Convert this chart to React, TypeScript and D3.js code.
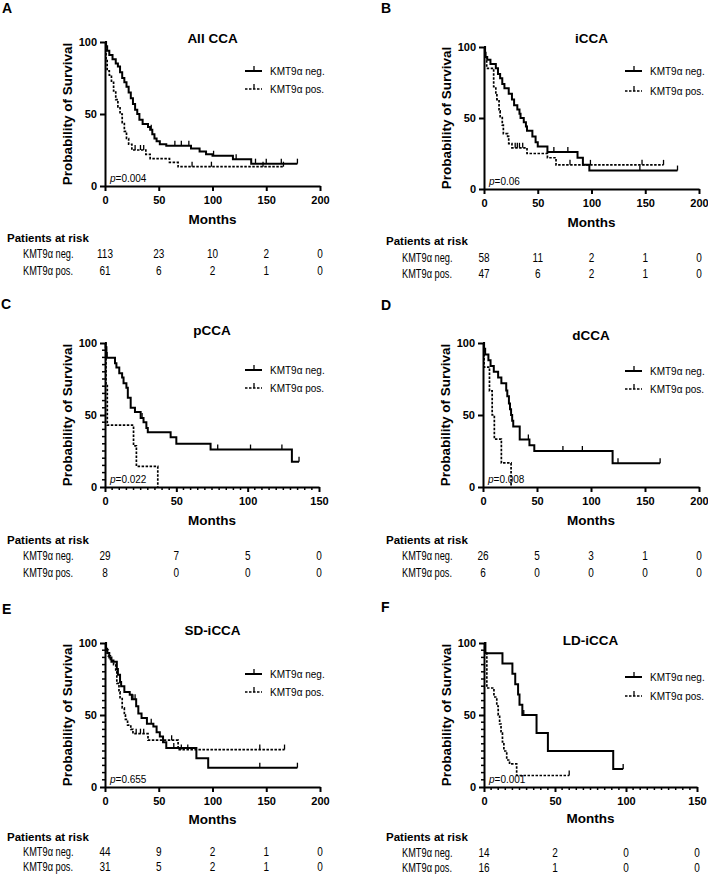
import React, { useRef, useEffect } from "react";
import * as d3 from "d3";

type Step = [number, number];

// Kaplan-Meier step points: [month, survival %]; value holds until the next point,
// the last point marks where follow-up ends.

// --- All CCA ---
const allNegSteps: Step[] = [[0, 100], [1, 97], [2, 94], [4, 91], [7, 88], [10, 85], [12, 83], [14, 79], [16, 75], [18, 72], [20, 69], [22, 65], [24, 61], [26, 57], [28, 53], [30, 50], [32, 46], [35, 43], [40, 41], [42, 39], [44, 36], [46, 33], [48, 31], [51, 29], [57, 28], [80, 26], [88, 24], [94, 22], [100, 21], [119, 18.5], [136, 15.5], [179, 15.5]];
const allNegCensored = [43, 65, 71, 78, 101, 122, 140, 150, 164, 179];
const allPosSteps: Step[] = [[0, 100], [1, 88], [2, 80], [4, 77], [6, 72], [8, 66], [10, 60], [12, 55], [14, 50], [16, 44], [18, 38], [20, 33], [22, 29], [25, 25], [38, 22], [42, 19], [60, 16.4], [68, 13.4], [166, 13.4]];
const allPosCensored = [28, 33, 36, 81, 99, 147, 166];
const allNegRisk = [113, 23, 10, 2, 0];
const allPosRisk = [61, 6, 2, 1, 0];

// --- iCCA ---
const icNegSteps: Step[] = [[0, 100], [1, 96], [1.5, 93], [3, 91], [6, 88], [11, 85], [13, 81], [15, 78], [17, 74], [19, 71], [23, 67], [26, 63], [28, 59], [31, 56], [33, 53], [34, 50], [37, 47], [39, 44], [40, 41], [45, 37], [48, 33], [50, 30], [59, 26], [87, 22], [92, 17], [98, 13], [180, 13]];
const icNegCensored = [40, 65, 78, 145, 180];
const icPosSteps: Step[] = [[0, 100], [1, 93], [2.5, 85], [9, 72], [11, 67], [12, 63], [14, 55], [15, 51], [17, 45], [18, 39], [22, 37], [23, 32], [26, 29], [40, 25], [59, 22], [67, 17], [167, 17]];
const icPosCensored = [29, 31, 33, 36, 80, 99, 147, 167];
const icNegRisk = [58, 11, 2, 1, 0];
const icPosRisk = [47, 6, 2, 1, 0];

// --- pCCA ---
const pNegSteps: Step[] = [[0, 100], [0.5, 97], [1, 93], [1.3, 89.7], [7, 86], [8, 83], [10, 79], [12, 76], [13, 72], [15, 69], [16, 62], [18, 55], [21, 52], [25, 48], [27, 45], [29, 41], [30, 38], [46, 34.5], [50, 30], [74, 26], [131, 17.5], [136, 17.5]];
const pNegCensored = [26, 79, 102, 124, 136];
const pPosSteps: Step[] = [[0, 100], [0.7, 71.4], [1.6, 42.9], [20, 28.6], [22, 14.3], [37, 0]];
const pPosCensored: number[] = [];
const pNegRisk = [29, 7, 5, 0];
const pPosRisk = [8, 0, 0, 0];

// --- dCCA ---
const dNegSteps: Step[] = [[0, 100], [1, 96], [2, 92], [5, 88], [7, 84], [10, 80], [14, 76], [17, 72], [21.5, 67], [22.5, 63], [24, 58], [25, 54], [26, 50], [27, 46], [28, 42], [34, 33], [43, 29], [47.5, 25], [120, 16.5], [164, 16.5]];
const dNegCensored = [42, 74, 92, 125, 164];
const dPosSteps: Step[] = [[0, 100], [1, 83.3], [6, 66.7], [8.5, 50], [10.5, 33.3], [17, 16.7], [26, 0]];
const dPosCensored: number[] = [];
const dNegRisk = [26, 5, 3, 1, 0];
const dPosRisk = [6, 0, 0, 0, 0];

// --- SD-iCCA ---
const sdNegSteps: Step[] = [[0, 100], [1, 96], [2, 93], [4, 90], [6, 87], [11, 82], [12, 78], [14, 73], [15, 70], [18, 66], [23, 64], [25, 61], [29, 56], [31, 51], [34, 48], [39, 44], [45, 42], [48, 38], [51, 35], [54, 31], [57, 27], [85, 20], [96, 13.4], [179, 13.4]];
const sdNegCensored = [26, 28, 43, 64, 144, 179];
const sdPosSteps: Step[] = [[0, 100], [1, 95], [3, 91], [5, 88], [8, 85], [10, 80], [11, 72], [13, 66], [14, 62], [16, 55], [18, 50], [19, 47], [21, 43], [24, 40], [26, 37], [40, 32.5], [68, 26], [167, 26]];
const sdPosCensored = [29, 33, 36, 62, 71, 77, 144, 167];
const sdNegRisk = [44, 9, 2, 1, 0];
const sdPosRisk = [31, 5, 2, 1, 0];

// --- LD-iCCA ---
const ldNegSteps: Step[] = [[0, 100], [1, 92.9], [13, 85.7], [20, 78.6], [22, 71.4], [24, 64.3], [25, 57.1], [27, 50], [37, 37.5], [45, 25], [91, 12.5], [98, 12.5]];
const ldNegCensored = [28, 98];
const ldPosSteps: Step[] = [[0, 100], [0.5, 93.75], [2, 68.75], [7, 62.5], [9, 56.25], [10, 50], [11, 43.75], [12, 37.5], [13, 31.25], [14, 25], [16, 18.75], [18, 16], [23, 8], [60, 8]];
const ldPosCensored = [60];
const ldNegRisk = [14, 2, 0, 0];
const ldPosRisk = [16, 1, 0, 0];

const seriesNames = ["KMT9\u03b1 neg.", "KMT9\u03b1 pos."];
const yTicks = [0, 50, 100];

const FONT = "'Liberation Sans', Arial, Helvetica, sans-serif";

// panel frame: x0/x1 = x axis ends, yTop/yBot = 100% and 0% rows; table = offsets below yBot
const panels = [
  { letter: "A", title: "All CCA", pValue: "0.004", xMax: 200, neg: allNegSteps, negCens: allNegCensored, pos: allPosSteps, posCens: allPosCensored, negRisk: allNegRisk, posRisk: allPosRisk, minorX: false, minorY: false,
    x0: 105, x1: 320, yTop: 42, yBot: 186, titleY: 43, letterXY: [2, 13], legendX: 245, legendY: [71, 89], tableX: 7, table: [38, 56, 72, 89] },
  { letter: "B", title: "iCCA", pValue: "0.06", xMax: 200, neg: icNegSteps, negCens: icNegCensored, pos: icPosSteps, posCens: icPosCensored, negRisk: icNegRisk, posRisk: icPosRisk, minorX: false, minorY: false,
    x0: 484, x1: 699, yTop: 47, yBot: 189, titleY: 43, letterXY: [381, 13], legendX: 625, legendY: [71, 91], tableX: 386, table: [38, 56, 73, 89] },
  { letter: "C", title: "pCCA", pValue: "0.022", xMax: 150, neg: pNegSteps, negCens: pNegCensored, pos: pPosSteps, posCens: pPosCensored, negRisk: pNegRisk, posRisk: pPosRisk, minorX: true, minorY: true,
    x0: 105, x1: 319, yTop: 343, yBot: 487, titleY: 335, letterXY: [1, 309], legendX: 245, legendY: [370, 388], tableX: 7, table: [38, 57, 73, 90] },
  { letter: "D", title: "dCCA", pValue: "0.008", xMax: 200, neg: dNegSteps, negCens: dNegCensored, pos: dPosSteps, posCens: dPosCensored, negRisk: dNegRisk, posRisk: dPosRisk, minorX: false, minorY: false,
    x0: 483, x1: 699, yTop: 343, yBot: 487, titleY: 340, letterXY: [381, 310], legendX: 625, legendY: [371, 389], tableX: 386, table: [38, 57, 73, 90] },
  { letter: "E", title: "SD-iCCA", pValue: "0.655", xMax: 200, neg: sdNegSteps, negCens: sdNegCensored, pos: sdPosSteps, posCens: sdPosCensored, negRisk: sdNegRisk, posRisk: sdPosRisk, minorX: false, minorY: true,
    x0: 105, x1: 320, yTop: 643, yBot: 787, titleY: 635, letterXY: [2, 614], legendX: 245, legendY: [674, 692], tableX: 7, table: [37, 54, 69, 84] },
  { letter: "F", title: "LD-iCCA", pValue: "0.001", xMax: 150, neg: ldNegSteps, negCens: ldNegCensored, pos: ldPosSteps, posCens: ldPosCensored, negRisk: ldNegRisk, posRisk: ldPosRisk, minorX: true, minorY: true,
    x0: 484, x1: 697, yTop: 643, yBot: 787, titleY: 645, letterXY: [381, 612], legendX: 625, legendY: [677, 696], tableX: 386, table: [36, 54, 70, 85] },
];

function survivalAt(steps: Step[], t: number) {
  let s = steps[0][1];
  for (const [m, v] of steps) {
    if (m <= t) s = v;
    else break;
  }
  return s;
}

const KaplanMeierGrid = () => {
  const svgRef = useRef<SVGSVGElement>(null);

  useEffect(() => {
    document.body.style.margin = "0";
    const svg = d3.select(svgRef.current);
    svg.selectAll("*").remove();

    panels.forEach((p) => {
      const g = svg.append("g").style("font-family", FONT);

      const x = d3.scaleLinear().domain([0, p.xMax]).range([p.x0, p.x1]);
      const y = d3.scaleLinear().domain([0, 100]).range([p.yBot, p.yTop]);
      const xTicks = d3.range(0, p.xMax + 1, 50);
      const midX = (p.x0 + p.x1) / 2;

      // panel letter and title
      g.append("text")
        .attr("x", p.letterXY[0])
        .attr("y", p.letterXY[1])
        .style("font-size", "14px")
        .style("font-weight", "700")
        .text(p.letter);

      g.append("text")
        .attr("x", midX)
        .attr("y", p.titleY)
        .attr("text-anchor", "middle")
        .style("font-size", "13.5px")
        .style("font-weight", "700")
        .text(p.title);

      // axes
      const yAxis = g.append("g")
        .attr("transform", `translate(${p.x0},0)`)
        .call(d3.axisLeft(y).tickValues(yTicks).tickSize(5).tickSizeOuter(0).tickPadding(3));
      const xAxis = g.append("g")
        .attr("transform", `translate(0,${p.yBot})`)
        .call(d3.axisBottom(x).tickValues(xTicks).tickSize(5).tickSizeOuter(0).tickPadding(5));

      [yAxis, xAxis].forEach((ax) => {
        ax.select(".domain").attr("stroke", "#000").attr("stroke-width", 2);
        ax.selectAll(".tick line").attr("stroke", "#000").attr("stroke-width", 2);
        ax.selectAll(".tick text")
          .attr("fill", "#000")
          .style("font-family", FONT)
          .style("font-size", "11px")
          .style("font-weight", "700");
      });

      if (p.minorX) {
        g.append("g")
          .selectAll("line")
          .data(d3.range(5, p.xMax, 5).filter((v) => v % 50 !== 0))
          .join("line")
          .attr("x1", (d) => x(d))
          .attr("x2", (d) => x(d))
          .attr("y1", p.yBot)
          .attr("y2", p.yBot + 3)
          .attr("stroke", "#000")
          .attr("stroke-width", 1.5);
      }
      if (p.minorY) {
        g.append("g")
          .selectAll("line")
          .data(d3.range(5, 100, 5).filter((v) => v % 50 !== 0))
          .join("line")
          .attr("x1", p.x0 - 3)
          .attr("x2", p.x0)
          .attr("y1", (d) => y(d))
          .attr("y2", (d) => y(d))
          .attr("stroke", "#000")
          .attr("stroke-width", 1.5);
      }

      // axis titles
      g.append("text")
        .attr("transform", `translate(${p.x0 - 33},${(p.yTop + p.yBot) / 2}) rotate(-90)`)
        .attr("text-anchor", "middle")
        .style("font-size", "13.5px")
        .style("font-weight", "700")
        .text("Probability of Survival");

      g.append("text")
        .attr("x", midX)
        .attr("y", p.yBot + p.table[0])
        .attr("text-anchor", "middle")
        .style("font-size", "13.5px")
        .style("font-weight", "700")
        .text("Months");

      // survival curves
      const line = d3.line<Step>()
        .x((d) => x(d[0]))
        .y((d) => y(d[1]))
        .curve(d3.curveStepAfter);

      const series = [
        { steps: p.pos, cens: p.posCens, dash: "2.5,1.5", width: 1.7 },
        { steps: p.neg, cens: p.negCens, dash: null, width: 2 },
      ];
      series.forEach((s) => {
        g.append("path")
          .datum(s.steps)
          .attr("fill", "none")
          .attr("stroke", "#000")
          .attr("stroke-width", s.width)
          .attr("stroke-dasharray", s.dash)
          .attr("d", line);

        g.append("g")
          .selectAll("line")
          .data(s.cens)
          .join("line")
          .attr("x1", (d) => x(d))
          .attr("x2", (d) => x(d))
          .attr("y1", (d) => y(survivalAt(s.steps, d)))
          .attr("y2", (d) => y(survivalAt(s.steps, d)) - 5)
          .attr("stroke", "#000")
          .attr("stroke-width", 1.3);
      });

      // p value
      const pText = g.append("text")
        .attr("x", p.x0 + 5)
        .attr("y", p.yBot - 4)
        .style("font-size", "10px");
      pText.append("tspan").style("font-style", "italic").text("p");
      pText.append("tspan").text(`=${p.pValue}`);

      // legend
      seriesNames.forEach((name, i) => {
        const ly = p.legendY[i];
        g.append("line")
          .attr("x1", p.legendX)
          .attr("x2", p.legendX + 17)
          .attr("y1", ly)
          .attr("y2", ly)
          .attr("stroke", "#000")
          .attr("stroke-width", i === 0 ? 2 : 1.7)
          .attr("stroke-dasharray", i === 0 ? null : "2.5,1.5");
        g.append("line")
          .attr("x1", p.legendX + 9)
          .attr("x2", p.legendX + 9)
          .attr("y1", ly)
          .attr("y2", ly - 5)
          .attr("stroke", "#000")
          .attr("stroke-width", 1.3);
        g.append("text")
          .attr("x", p.legendX + 25)
          .attr("y", ly + 3.5)
          .style("font-size", "10px")
          .text(name);
      });

      // patients at risk table
      g.append("text")
        .attr("x", p.tableX)
        .attr("y", p.yBot + p.table[1])
        .style("font-size", "11.5px")
        .style("font-weight", "700")
        .text("Patients at risk");

      [p.negRisk, p.posRisk].forEach((row, i) => {
        const ry = p.yBot + p.table[2 + i];
        g.append("text")
          .attr("transform", `translate(${p.tableX + 16},${ry}) scale(0.74,1)`)
          .style("font-size", "12.5px")
          .text(seriesNames[i]);
        g.append("g")
          .selectAll("text")
          .data(row)
          .join("text")
          .attr("transform", (d, j) => `translate(${x(xTicks[j])},${ry}) scale(0.8,1)`)
          .attr("text-anchor", "middle")
          .style("font-size", "12.5px")
          .text((d) => d);
      });
    });
  }, []);

  return (
    <div style={{ position: "relative", width: 708, height: 874, background: "#fff" }}>
      <svg ref={svgRef} width={708} height={874} style={{ display: "block" }}></svg>
    </div>
  );
};

export default function App() {
  return <KaplanMeierGrid />;
}
